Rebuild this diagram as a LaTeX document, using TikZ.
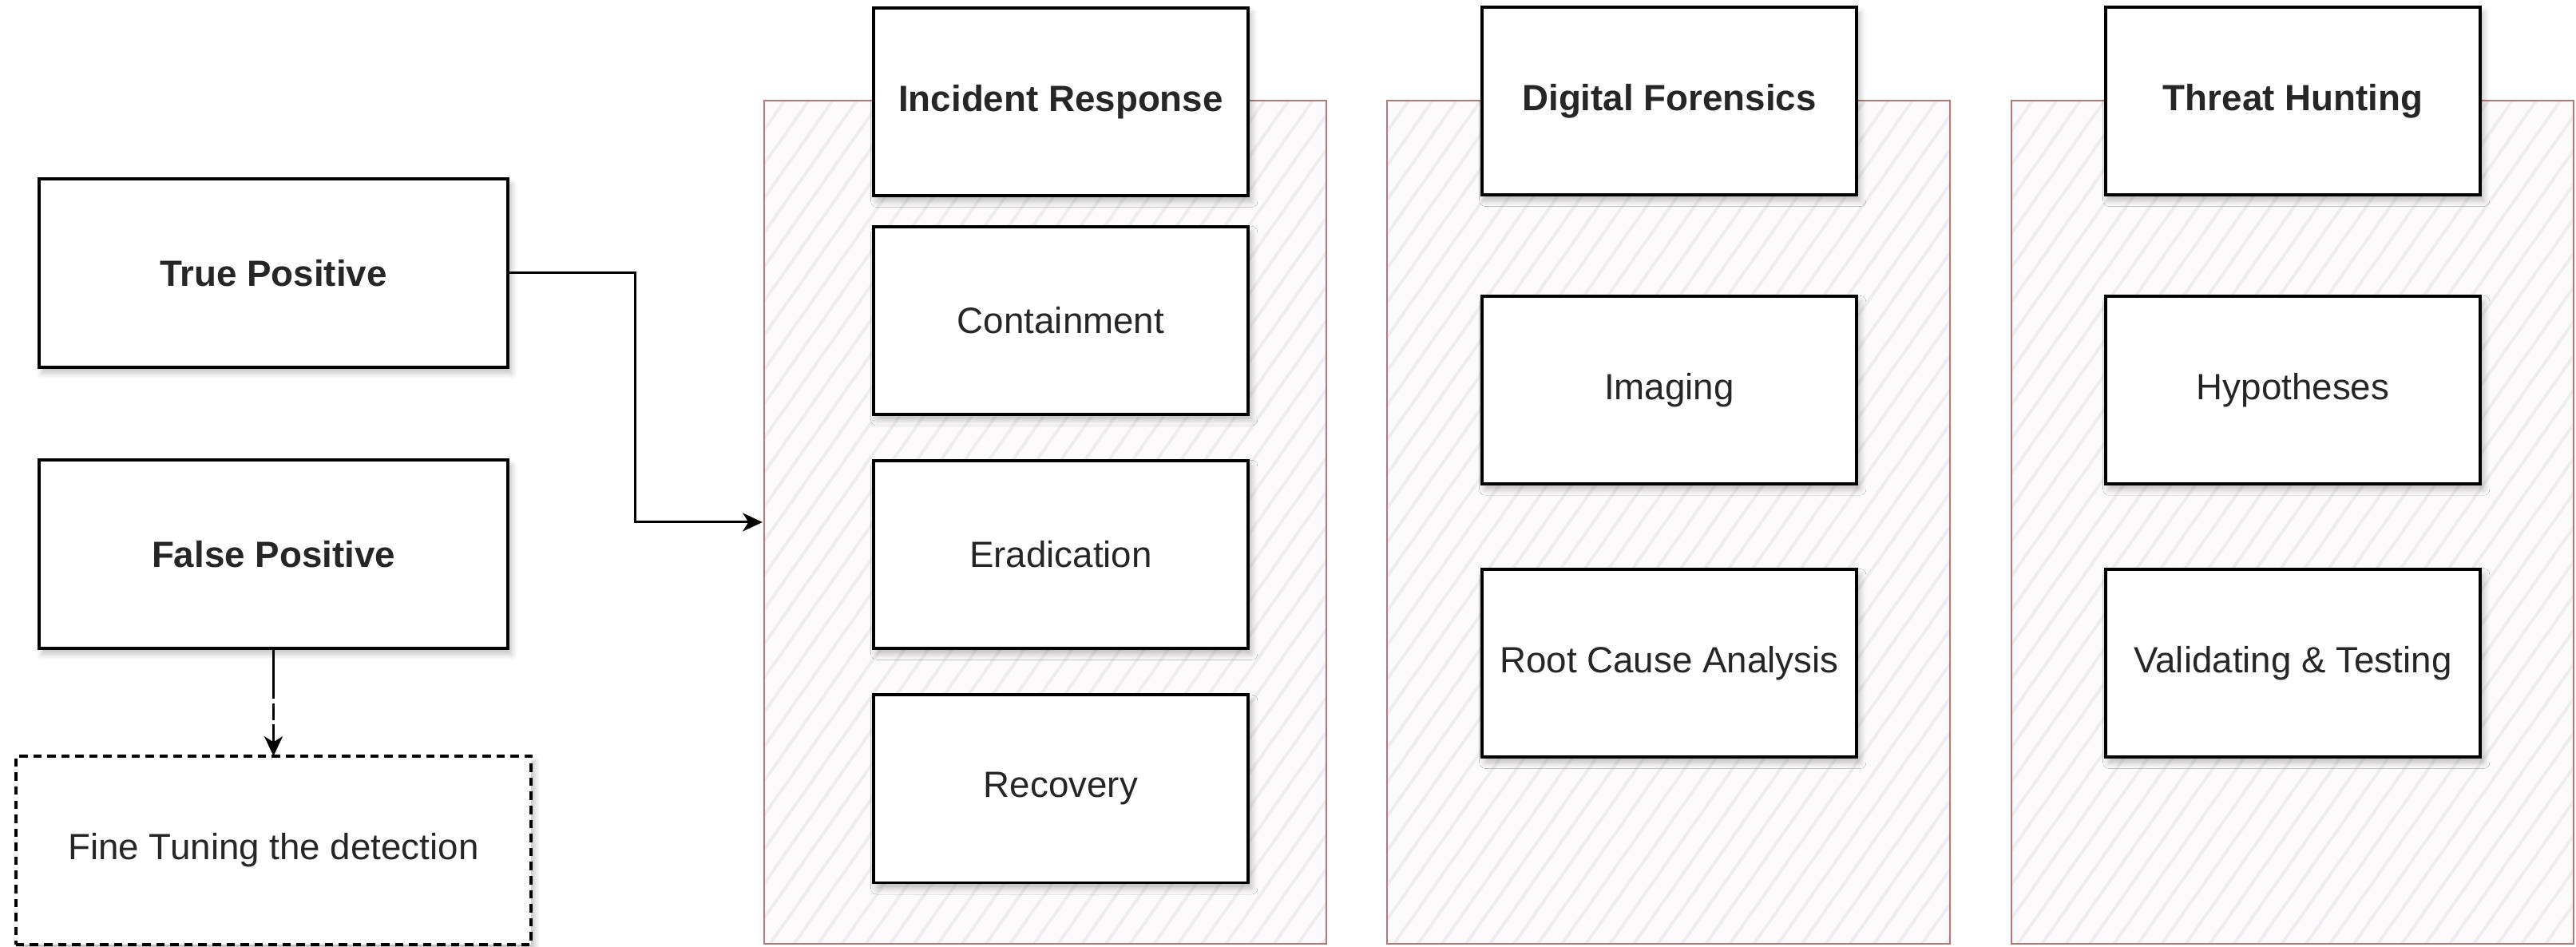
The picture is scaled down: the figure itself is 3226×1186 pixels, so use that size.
\documentclass[tikz,border=0pt]{standalone}
\usepackage{fontspec}
\setmainfont{Liberation Sans}
\usetikzlibrary{positioning,arrows.meta,patterns.meta,shadows.blur,calc}
\definecolor{laneline}{RGB}{180,120,118}
\definecolor{lanefill}{RGB}{253,250,251}
\definecolor{hatch}{RGB}{238,236,240}

\begin{document}
\begin{tikzpicture}[
  x=0.01cm, y=-0.01cm,
  font=\fontsize{13}{16}\selectfont,
  lane/.style={draw=laneline, line width=0.6pt, preaction={fill=lanefill},
    pattern={Lines[angle=55,distance=7pt,line width=1.1pt]}, pattern color=hatch,
    minimum width=7.04cm, minimum height=10.56cm, inner sep=0pt},
  box/.style={draw, fill=white, line width=1.1pt, text=black!85,
    minimum width=4.69cm, minimum height=2.35cm, inner sep=0pt, outer sep=0pt, align=center,
    blur shadow={shadow xshift=1.2pt, shadow yshift=-2pt, shadow blur steps=6, shadow opacity=25}},
  head/.style={box, font=\fontsize{13}{16}\selectfont\bfseries},
  side/.style={minimum width=5.87cm, minimum height=2.36cm},
  arr/.style={-{Stealth[length=7pt,width=6.5pt,inset=2pt]}, line width=0.85pt}]
\useasboundingbox (0,0) rectangle (3226,1186);
% lanes
\node[lane] (ir) at (1309,654) {};
\node[lane] (df) at (2089.5,654) {};
\node[lane] (th) at (2871,654) {};
% detection outcome
\node[head, side] (tp) at (342.5,342) {True Positive};
\node[head, side] (fp) at (342.5,694) {False Positive};
\node[box, side, minimum width=6.45cm, dash pattern={on 3pt off 2pt}] (fine) at (342.5,1065) {Fine Tuning the detection};
% incident response
\node[head] (irh) at (1328.5,127.5) {Incident Response};
\node[box, below=0.385cm of irh] (cont) {Containment};
\node[box, below=0.58cm of cont] (erad) {Eradication};
\node[box, below=0.585cm of erad] (recov) {Recovery};
% digital forensics
\node[head] (dfh) at (2090.5,126.5) {Digital Forensics};
\node[box, below=1.265cm of dfh] (img) {Imaging};
\node[box, below=1.07cm of img] (rca) {Root Cause Analysis};
% threat hunting
\node[head] (thh) at (2871.5,126.5) {Threat Hunting};
\node[box, below=1.265cm of thh] (hyp) {Hypotheses};
\node[box, below=1.07cm of hyp] (val) {Validating \& Testing};
% connectors
\draw[arr] (tp.east) -| ($(tp.east)!.5!(ir.west)$) |- (ir.west);
\draw[arr, dash pattern={on 18pt off 1.5pt on 6pt off 1.5pt}] (fp) -- (fine);
\end{tikzpicture}
\end{document}
